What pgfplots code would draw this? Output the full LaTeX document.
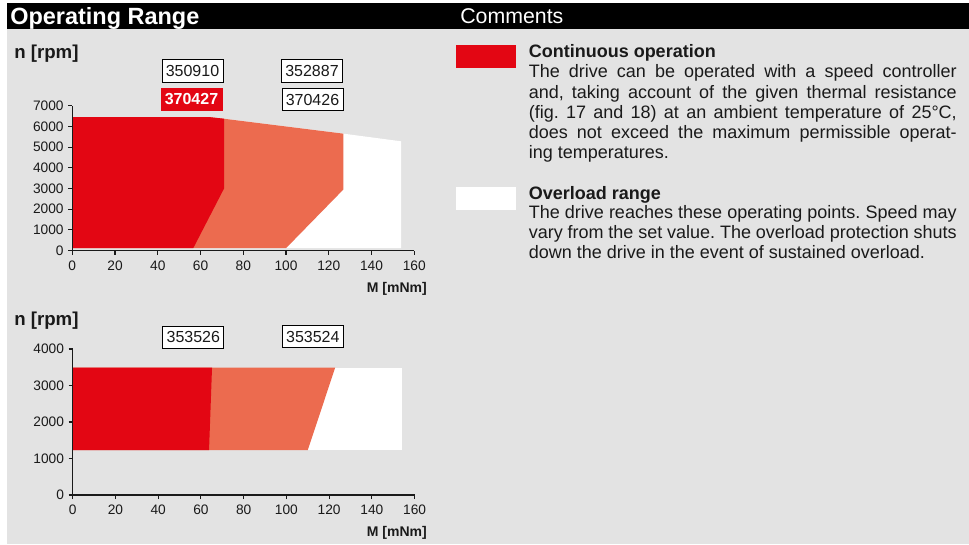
\documentclass[border=0pt]{standalone}
\usepackage{fontspec}
\setmainfont{Liberation Sans}
\usepackage{pgfplots}
\pgfplotsset{compat=1.18}
\frenchspacing
\definecolor{cred}{HTML}{E30613}
\definecolor{corange}{HTML}{EC6B4F}
\definecolor{cgray}{HTML}{E3E3E3}
\definecolor{ctext}{HTML}{1A1A1A}
\pgfplotsset{opr/.style={
  scale only axis, axis on top,
  axis x line=bottom, axis y line=left,
  axis line style={-, line width=0.8pt, color=ctext},
  tick align=outside, major tick length=3pt,
  tick style={line width=0.8pt, color=ctext},
  xmin=0, xmax=160, xtick={0,20,...,160},
  scaled ticks=false,
  ticklabel style={font=\fontsize{10.3}{12}\selectfont, color=ctext},
  xticklabel style={yshift=-1pt},
  /pgf/number format/assume math mode=true,
  /pgf/number format/1000 sep={},
  anchor=south west, width=256.5pt,
}}
\begin{document}
\begin{tikzpicture}
\begin{scope}[x=0.75pt, y=-0.75pt, yshift=408pt]
  \useasboundingbox (0,0) rectangle (969,544);
  \fill[white] (0,0) rectangle (969,544);
  \fill[cgray] (7,29) rectangle (969,544);
  \fill[black] (7,3) rectangle (969,29);
\end{scope}

% top chart
\begin{axis}[opr, at={(54.2pt,220pt)}, height=108.75pt,
  ymin=0, ymax=7000, ytick={0,1000,...,7000}]
  \addplot[fill=white, draw=none] coordinates {(0,120) (0,6450) (64,6450) (71,6370) (126.8,5650) (153.8,5280) (153.8,120)};
  \addplot[fill=corange, draw=none] coordinates {(0,120) (0,6450) (64,6450) (71,6370) (126.8,5650) (126.8,2950) (100,120)};
  \addplot[fill=cred, draw=none] coordinates {(0,120) (0,6450) (64,6450) (71,6370) (71,3000) (56.6,120)};
\end{axis}

% bottom chart
\begin{axis}[opr, at={(54.5pt,36.75pt)}, height=109.5pt,
  ymin=0, ymax=4000, ytick={0,1000,...,4000}]
  \addplot[fill=white, draw=none] coordinates {(0,1230) (0,3490) (154,3490) (154,1230)};
  \addplot[fill=corange, draw=none] coordinates {(0,1230) (0,3490) (122.8,3490) (110,1230)};
  \addplot[fill=cred, draw=none] coordinates {(0,1230) (0,3490) (65.2,3490) (63.8,1230)};
\end{axis}

\begin{scope}[x=0.75pt, y=-0.75pt, yshift=408pt]
  % headers
  \node[anchor=base west, inner sep=0, text=white, font=\fontsize{17.6}{20}\selectfont\bfseries] at (10,25) {Operating Range};
  \node[anchor=base west, inner sep=0, text=white, font=\fontsize{16}{19}\selectfont] at (460,24) {Comments};
  % axis labels
  \node[anchor=base west, inner sep=0, text=ctext, font=\fontsize{14}{16}\selectfont\bfseries] at (14,58.3) {n [rpm]};
  \node[anchor=base west, inner sep=0, text=ctext, font=\fontsize{14}{16}\selectfont\bfseries] at (14,325) {n [rpm]};
  \node[anchor=base east, inner sep=0, text=ctext, font=\fontsize{10.5}{12}\selectfont\bfseries] at (427,292.7) {M [mNm]};
  \node[anchor=base east, inner sep=0, text=ctext, font=\fontsize{10.5}{12}\selectfont\bfseries] at (427,536) {M [mNm]};
  % boxes
  \tikzset{nbox/.style={draw=black, line width=0.75pt, fill=white, minimum width=45.75pt, minimum height=16.5pt, inner sep=0, text=ctext, font=\fontsize{12}{14}\selectfont}}
  \node[nbox] at (192.5,71) {350910};
  \node[nbox, fill=cred, draw=cred, text=white, font=\fontsize{12}{14}\selectfont\bfseries] at (191.5,99.5) {370427};
  \node[nbox] at (312,71) {352887};
  \node[nbox] at (312.5,99.5) {370426};
  \node[nbox] at (193.3,337.3) {353526};
  \node[nbox] at (312.8,336.7) {353524};
  % legend
  \fill[cred] (456,45) rectangle (516,67.7);
  \fill[white] (456,187) rectangle (516,210);
  \tikzset{ct/.style={anchor=base west, inner sep=0, text=ctext, font=\fontsize{13.5}{15}\selectfont}}
  \node[ct, font=\fontsize{13.5}{15}\selectfont\bfseries] at (528.5,58) {Continuous operation};
  \node[ct] at (528.5,78) {\makebox[321pt][s]{The drive can be operated with a speed controller}};
  \node[ct] at (528.5,98) {\makebox[321pt][s]{and, taking account of the given thermal resistance}};
  \node[ct] at (528.5,118) {\makebox[321pt][s]{(fig. 17 and 18) at an ambient temperature of 25°C,}};
  \node[ct] at (528.5,138) {\makebox[321pt][s]{does not exceed the maximum permissible operat-}};
  \node[ct] at (528.5,158) {ing temperatures.};
  \node[ct, font=\fontsize{13.5}{15}\selectfont\bfseries] at (528.5,199) {Overload range};
  \node[ct] at (528.5,218.5) {\makebox[321pt][s]{The drive reaches these operating points. Speed may}};
  \node[ct] at (528.5,238.5) {\makebox[321pt][s]{vary from the set value. The overload protection shuts}};
  \node[ct] at (528.5,258.5) {down the drive in the event of sustained overload.};
\end{scope}
\end{tikzpicture}
\end{document}
